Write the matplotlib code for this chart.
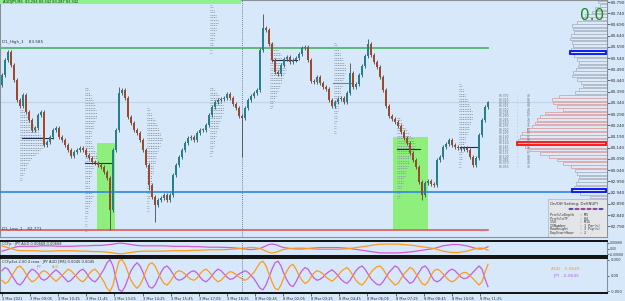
import matplotlib
matplotlib.use("Agg")
import matplotlib.pyplot as plt
from matplotlib.patches import Rectangle, Circle
import numpy as np

# === DATA ===
first_open = 83.420
closes = [
    83.465, 83.532, 83.567, 83.510, 83.443, 83.353, 83.327, 83.376, 83.300, 83.264,
    83.220, 83.229, 83.286, 83.300, 83.153, 83.166, 83.188, 83.220, 83.229, 83.188,
    83.175, 83.153, 83.130, 83.104, 83.121, 83.130, 83.139, 83.130, 83.108, 83.095,
    83.077, 83.072, 83.063, 83.055, 83.032, 83.005, 82.863, 83.130, 83.220, 83.385,
    83.398, 83.362, 83.278, 83.251, 83.220, 83.206, 83.175, 83.130, 83.063, 82.974,
    82.921, 82.885, 82.907, 82.916, 82.930, 82.907, 82.930, 83.019, 83.063, 83.099,
    83.130, 83.162, 83.184, 83.188, 83.175, 83.206, 83.220, 83.220, 83.242, 83.286,
    83.322, 83.344, 83.353, 83.358, 83.362, 83.380, 83.362, 83.336, 83.318, 83.282,
    83.273, 83.318, 83.353, 83.371, 83.385, 83.398, 83.576, 83.675, 83.666, 83.603,
    83.532, 83.478, 83.469, 83.510, 83.536, 83.545, 83.523, 83.532, 83.541, 83.559,
    83.585, 83.590, 83.532, 83.438, 83.434, 83.456, 83.429, 83.411, 83.402, 83.353,
    83.327, 83.344, 83.358, 83.362, 83.344, 83.385, 83.474, 83.411, 83.425, 83.465,
    83.505, 83.550, 83.603, 83.554, 83.523, 83.501, 83.456, 83.398, 83.327, 83.282,
    83.269, 83.255, 83.237, 83.211, 83.184, 83.162, 83.117, 83.086, 83.055, 82.988,
    82.930, 82.983, 82.992, 82.979, 82.974, 83.086, 83.099, 83.144, 83.157, 83.175,
    83.153, 83.144, 83.139, 83.135, 83.139, 83.130, 83.099, 83.063, 83.095, 83.197,
    83.264, 83.322, 83.342,
]
long_lows = {36: 82.775, 51: 82.810, 80: 83.099, 140: 82.905, 49: 82.950}
long_highs = {87: 83.735, 122: 83.625, 39: 83.410, 116: 83.520}

d1_high = 83.585
d1_low = 82.771
blue_level = 82.943
bid_level = 83.342

# green zones: (first bar, last bar, top price)
zone_start = [31.7, 130.3]
zone_end = [37.7, 142.0]
zone_top = [83.162, 83.188]

# POC-style short lines inside the TPO profiles
poc_start = [6.7, 27.7, 131.7, 110.3, 90.0, 152.7]
poc_end = [17.0, 36.7, 139.3, 117.0, 98.3, 158.3]
poc_price = [83.184, 83.072, 83.135, 83.429, 83.532, 83.144]
poc_color = ['#1f3050', '#1f3050', '#1f3050', '#9966cc', '#1f3050', '#1f3050']

# TPO profiles (start bar, top price, row widths in px units)
tpo_start = [6.0, 27.7, 48.3, 69.3, 69.3, 89.3, 110.7, 131.7, 152.3]
tpo_top = [83.309, 83.407, 83.318, 83.777, 83.407, 83.608, 83.608, 83.273, 83.425]
tpo_rows = [
    [3, 5, 6, 8, 10, 12, 14, 15, 17, 18, 20, 22, 24, 25, 24, 22, 20, 18, 15, 12, 10, 8, 7, 6, 5, 4, 3, 2, 2],
    [3, 4, 5, 6, 7, 8, 9, 10, 10, 11, 12, 12, 11, 10, 9, 8, 8, 7, 6, 6, 5, 6, 7, 8, 9, 10, 11, 12, 12,
     11, 10, 9, 8, 7, 6, 6, 5, 5, 4, 4, 5, 6, 7, 8, 7, 6, 5, 4, 3, 3, 3, 2, 2, 2, 2, 2, 2, 2],
    [2, 3, 4, 5, 6, 8, 9, 10, 11, 12, 13, 14, 15, 15, 14, 13, 12, 11, 10, 9, 9, 8, 8, 7, 7, 6, 6, 5,
     5, 5, 4, 4, 4, 3, 3, 3, 3, 2, 2, 2, 2, 2],
    [2, 3, 4, 5, 6, 7, 8, 8, 7, 6, 6, 5, 5, 4, 4, 3, 3, 2, 2, 2],
    [3, 5, 7, 9, 10, 11, 12, 13, 14, 14, 13, 12, 11, 10, 9, 8, 8, 7, 6, 6, 5, 5, 4, 4, 3, 3, 2, 2],
    [3, 4, 6, 8, 10, 11, 12, 13, 14, 15, 16, 16, 15, 14, 13, 12, 11, 10, 9, 8, 7, 6, 5, 4, 3, 3, 2],
    [2, 3, 4, 5, 6, 7, 8, 9, 10, 11, 12, 12, 11, 10, 10, 9, 8, 8, 7, 7, 6, 6, 5, 5, 5, 4, 4, 4, 3,
     3, 3, 3, 2, 2, 2, 2, 2],
    [3, 4, 5, 6, 8, 10, 12, 14, 16, 17, 18, 18, 17, 16, 15, 14, 13, 12, 12, 11, 10, 9, 9, 8, 7, 6,
     6, 5, 4, 4, 3, 3, 2],
    [2, 3, 4, 5, 6, 7, 8, 9, 10, 11, 12, 13, 14, 14, 13, 12, 11, 10, 10, 9, 8, 7, 6, 6, 5, 5, 4, 4,
     3, 3, 3, 2, 2, 2],
]

# right side volume profile
vp_top_price = 83.790
vp_step = 0.015
vp_volume = [9, 7, 12, 15, 22, 24, 30, 35, 34, 33, 36, 37, 35, 34, 36, 37, 33, 30, 28, 29,
             31, 34, 35, 30, 26, 24, 28, 32, 48, 55, 54, 50, 44, 62, 67, 70, 72, 75, 80, 85,
             87, 89, 90, 82, 77, 67, 58, 50, 44, 36, 32, 30, 28, 29, 31, 33, 35, 27, 17, 8]
vp_blue_rows = [15, 56]
vp_red_row = 42

price_ticks = [82.790, 82.840, 82.890, 82.940, 82.990, 83.040, 83.090, 83.140, 83.190,
               83.240, 83.290, 83.340, 83.390, 83.440, 83.490, 83.540, 83.590, 83.640,
               83.690, 83.740, 83.790]

# CCFp oscillators (AUD line; JPY is its mirror)
ccf_aud = [3, 2, 1, 0, -1, -2, -2.5, -2.5, -2.5, -2.5,
           -2.5, -2.5, -2.8, -3, -3, -3, -3, -2.8, -2.5, -2.5,
           -2.5, -2.5, -2.5, -2.5, -2.6, -2.8, -3, -3, -3, -3.2,
           -3.5, -3.5, -3.5, -3.5, -3.8, -4, -4.5, -5, -5.5, -6,
           -6, -5.5, -5, -4.5, -4, -3.5, -3.2, -3, -3, -3,
           -3, -3, -3, -3, -3, -2.8, -2.6, -2.5, -2.5, -2.5,
           -2.5, -2.5, -2.4, -2.2, -2, -2, -2, -1.8, -1.6, -1.5,
           -1.5, -1.5, -1.5, -1.4, -1.3, -1.2, -1, -0.8, -0.5, -0.2,
           0, 0.5, 1, 1.2, 1, 0.5, 0, -1.5, -3, -4.5,
           -5, -4.5, -3.5, -2, -1, -0.5, 0, 0.3, 0.5, 0.5,
           0.5, 0.3, 0, -0.3, -0.5, -0.8, -1, -1, -1, -1,
           -1, -1, -1, -0.8, -0.5, -0.3, 0, 0.5, 1, 1.5,
           2, 2.5, 3, 3.5, 4, 4.5, 5, 5, 5, 5,
           5, 5, 5, 4.8, 4.5, 4.2, 4, 3.5, 3, 2.5,
           2, 1.5, 1, 0.5, 0, -1, -2, -3, -3.5, -4,
           -4.5, -4.5, -4.5, -4, -3.5, -3, -2, -1, 0, 0.5,
           0.5, -0.5, -2]

ext_aud = [-15, -25, -20, -5, 10, 25, 30, 20, 5, -10,
           -20, -15, -5, 10, 15, 10, 0, -10, -18, -10,
           0, 10, 20, 15, 5, -5, -15, -20, -10, 5,
           15, 20, 10, -5, -20, -40, -50, -30, 10, 45,
           50, 35, 10, -15, -30, -40, -30, -10, 15, 35,
           40, 30, 10, -10, -25, -30, -20, -5, 10, 15,
           12, 5, -5, -12, -15, -8, 5, 15, 20, 12,
           0, -12, -20, -15, -5, 5, 12, 10, 3, -5,
           -10, -15, -10, 0, 10, 25, 40, 45, 30, 5,
           -20, -40, -45, -30, -5, 15, 30, 35, 20, 0,
           -15, -25, -20, -5, 8, 15, 12, 5, -5, -12,
           -18, -10, 0, 12, 20, 25, 15, 0, -15, -25,
           -30, -20, -5, 10, 20, 28, 30, 20, 5, -10,
           -20, -30, -25, -10, 5, 15, 25, 20, 5, -10,
           -25, -30, -20, 0, 15, 20, 15, 5, -5, -15,
           -20, -15, -5, 5, 10, 8, 0, -10, -20, -30,
           -20, 10, 35]

time_labels = ["3 Mar 2021", "3 Mar 09:05", "3 Mar 10:25", "3 Mar 11:45", "3 Mar 13:05",
               "3 Mar 14:25", "3 Mar 15:45", "3 Mar 17:05", "3 Mar 18:25", "8 Mar 00:45",
               "8 Mar 02:05", "8 Mar 03:25", "8 Mar 04:45", "8 Mar 06:05", "8 Mar 07:25",
               "8 Mar 08:45", "8 Mar 10:05", "8 Mar 11:25"]

# === STYLE ===
BG = '#d6e8fa'
UP = '#23808c'
DOWN = '#9c4a2a'
WICK = '#4a4a4a'
W, H = 625, 301
PLOT_W = 607
X0, X1 = -2 / 3, 605 / 3          # bar index at left/right pixel edge
Y0, Y1 = 82.742, 83.799           # price at bottom/top of main panel
PX_PER_BAR = 3.0

fig = plt.figure(figsize=(W / 100, H / 100), dpi=100, facecolor=BG)
ax = fig.add_axes([0, 64 / H, PLOT_W / W, 237 / H], facecolor=BG)
ax_u = fig.add_axes([0, 45 / H, PLOT_W / W, 15 / H], facecolor=BG)
ax_l = fig.add_axes([0, 8 / H, PLOT_W / W, 35 / H], facecolor=BG)

n = len(closes)
xs = np.arange(n)
opens = np.array([first_open] + closes[:-1])
cl = np.array(closes)
hi = np.maximum(opens, cl) + 0.008
lo = np.minimum(opens, cl) - 0.008
for k, v in long_lows.items():
    lo[k] = v
for k, v in long_highs.items():
    hi[k] = v

# green zones
for s, e, t in zip(zone_start, zone_end, zone_top):
    ax.add_patch(Rectangle((s, d1_low), e - s, t - d1_low, facecolor='#86f06e',
                           edgecolor='none', alpha=0.9, zorder=1))

# TPO profiles as grey dotted rows
row_h = 0.0112
for s, top, rows in zip(tpo_start, tpo_top, tpo_rows):
    for r, wdt in enumerate(rows):
        yy = top - r * row_h
        ax.plot([s, s + wdt / PX_PER_BAR], [yy, yy], color='#8d99a8', lw=0.7,
                ls=(0, (1, 0.8)), zorder=2, solid_capstyle='butt')

# horizontal levels
ax.axhline(bid_level, color='#c3d3e6', lw=0.8, zorder=1)
ax.plot([X0, n - 1], [d1_high, d1_high], color='#5fb87a', lw=1.4, zorder=3)
ax.plot([X0, n - 1], [d1_low, d1_low], color='#e05a5a', lw=1.2, zorder=3)
ax.plot([X0, 190.0], [blue_level, blue_level], color='#2f86e0', lw=1.2, zorder=3)

for s, e, p, c in zip(poc_start, poc_end, poc_price, poc_color):
    ax.plot([s, e], [p, p], color=c, lw=0.8, zorder=4)

# candles
ax.vlines(xs, lo, hi, color=WICK, lw=0.6, zorder=5)
up = cl >= opens
body_h = np.abs(cl - opens)
body_h = np.maximum(body_h, 0.002)
ax.bar(xs[up], body_h[up], bottom=opens[up], width=0.6, color=UP, zorder=6, linewidth=0)
ax.bar(xs[~up], body_h[~up], bottom=cl[~up], width=0.6, color=DOWN, zorder=6, linewidth=0)

# right volume profile
vp_prices = vp_top_price - vp_step * np.arange(len(vp_volume))
vp_len = np.array(vp_volume) / PX_PER_BAR
edge_cols = []
for k, p in enumerate(vp_prices):
    if 28 <= k <= 49:
        edge_cols.append('#d9a5a8')
    else:
        edge_cols.append('#a8b6c6')
ax.barh(vp_prices, vp_len, left=X1 - vp_len, height=vp_step * 0.8, color='#dde9f6',
        edgecolor=edge_cols, linewidth=0.6, zorder=4)
for k in vp_blue_rows:
    ax.add_patch(Rectangle((X1 - vp_len[k], vp_prices[k] - vp_step * 0.4), vp_len[k] - 0.3,
                           vp_step * 0.8, facecolor='none', edgecolor='#0010ff', lw=1.3, zorder=7))
k = vp_red_row
ax.add_patch(Rectangle((X1 - vp_len[k], vp_prices[k] - vp_step * 0.4), vp_len[k] - 0.3,
                       vp_step * 0.8, facecolor='#f4b8bc', edgecolor='#ff1010', lw=1.3, zorder=7))

# little price table left of the profile
for k in range(28, 50):
    p = vp_prices[k]
    ax.text(165.5, p, f"{p:.3f}", fontsize=2.2, color='#6d7480', va='center', zorder=8)
    ax.text(171.5, p, ":", fontsize=2.2, color='#6d7480', va='center', zorder=8)
    ax.text(175.0, p, f"{vp_volume[k]}", fontsize=2.2, color='#6d7480', va='center', zorder=8)

ax.set_xlim(X0, X1)
ax.set_ylim(Y0, Y1)


def pxy(xp, yp):
    return xp / PLOT_W, 1 - yp / 237


# title bar + texts
ax.add_patch(Rectangle(pxy(0, 4), 241 / PLOT_W, 4 / 237, transform=ax.transAxes,
                       facecolor='#8ef08e', edgecolor='none', zorder=9))
ax.text(*pxy(3, 2), "AUDJPY,M5  83.294 83.342 83.287 83.342", transform=ax.transAxes,
        fontsize=2.6, color='#103010', va='center', zorder=10)
ax.text(*pxy(2, 44), "D1_High_1    83.585", transform=ax.transAxes, fontsize=3,
        color='#303840', va='bottom', zorder=10)
ax.text(*pxy(2, 230), "D1_Low_1    82.771", transform=ax.transAxes, fontsize=3,
        color='#303840', va='bottom', zorder=10)
ax.text(*pxy(592, 15), "0.0", transform=ax.transAxes, fontsize=11, color='#1a8a1a',
        ha='center', va='center', zorder=10)

# info box
ax.add_patch(Rectangle(pxy(548, 237), 59 / PLOT_W, 38 / 237, transform=ax.transAxes,
                       facecolor='#e3e5e8', edgecolor='#b0b4ba', lw=0.5, zorder=9))
ax.text(*pxy(550, 204), "On/Off Setting: Del(NUP)", transform=ax.transAxes, fontsize=2.8,
        color='#303030', va='center', zorder=10)
dot_cols = ['#3a5cff', '#ff3caa', '#ff3caa', '#ff3caa', '#ff3caa', '#3a5cff']
for j, c in enumerate(dot_cols):
    ax.add_patch(Circle(pxy(571 + j * 6, 209), 2.2 / PLOT_W, transform=ax.transAxes,
                        facecolor=c, edgecolor='#1a1a6a', lw=0.3, zorder=10))
info_lines = ["ProfileDepth   : M5", "ProfileTF      : H4", "ISO            : M15",
              "ISNumber       : 1 Par(s)", "RowHeight      : 3 Pip(s)", "DayStartHour   : 2"]
for j, t in enumerate(info_lines):
    ax.text(*pxy(550, 215 + j * 3.6), t, transform=ax.transAxes, fontsize=2.4,
            color='#303030', va='center', family='DejaVu Sans Mono', zorder=10)

ax.yaxis.tick_right()
ax.set_yticks(price_ticks)
ax.set_yticklabels([f"{p:.3f}" for p in price_ticks])
ax.tick_params(axis='y', labelsize=3, length=2, pad=1, colors='#303030', width=0.5)
ax.set_xticks([])
for s in ax.spines.values():
    s.set_color('#8a8f96')
    s.set_linewidth(0.8)

# === oscillator panels ===
aud_u = np.array(ccf_aud) / 1000
ax_u.plot(xs, -aud_u, color='#d45ad0', lw=0.9)
ax_u.plot(xs, aud_u, color='#ff9a1a', lw=0.9)
ax_u.set_xlim(X0, X1)
ax_u.set_ylim(-0.0085, 0.0085)
ax_u.yaxis.tick_right()
ax_u.set_yticks([0.00668, 0.0, -0.00668])
ax_u.set_yticklabels(["0.00668", "0.00", "-0.00668"])
ax_u.tick_params(axis='y', labelsize=2.2, length=1.2, pad=0.6, colors='#303030', width=0.5)
ax_u.set_xticks([])
ax_u.text(0.004, 0.82, "CCFp · JPY AUD 0.00668 0.00668", transform=ax_u.transAxes,
          fontsize=2.6, color='#303030', va='center')

aud_l = np.array(ext_aud) / 1000
ax_l.plot(xs, -aud_l, color='#c05ee0', lw=0.9)
ax_l.plot(xs, aud_l, color='#ff9a1a', lw=0.9)
ax_l.set_xlim(X0, X1)
ax_l.set_ylim(-0.055, 0.055)
ax_l.yaxis.tick_right()
ax_l.set_yticks([0.05, 0.0, -0.05])
ax_l.set_yticklabels(["0.050", "0.00", "-0.050"])
ax_l.tick_params(axis='y', labelsize=2.6, length=1.5, pad=1, colors='#303030', width=0.5)
ax_l.text(0.004, 0.9, "CCFpExt 2.00 4 rena · JPY AUD [M5] 0.0045 0.0045",
          transform=ax_l.transAxes, fontsize=2.6, color='#303030', va='center')
ax_l.text(0.06, 0.72, "JPY", transform=ax_l.transAxes, fontsize=2.4, color='#c05ee0')
ax_l.text(0.085, 0.72, "AUD", transform=ax_l.transAxes, fontsize=2.4, color='#ff9a1a')
ax_l.text(0.955, 0.68, "AUD   0.0645", transform=ax_l.transAxes, fontsize=3.2,
          color='#ff9a1a', ha='right', va='center')
ax_l.text(0.955, 0.48, "JPY  -0.0645", transform=ax_l.transAxes, fontsize=3.2,
          color='#c05ee0', ha='right', va='center')

tick_pos = np.arange(len(time_labels)) * 9.37
ax_l.set_xticks(tick_pos)
ax_l.set_xticklabels(time_labels)
ax_l.tick_params(axis='x', labelsize=2.6, length=2, pad=0.8, colors='#303030', width=0.5)
for lab in ax_l.get_xticklabels():
    lab.set_ha('left')

for a in (ax_u, ax_l):
    for side in ('top', 'bottom'):
        a.spines[side].set_color('black')
        a.spines[side].set_linewidth(1.3)
    for side in ('left', 'right'):
        a.spines[side].set_color('#8a8f96')
        a.spines[side].set_linewidth(0.8)

for a in (ax, ax_u, ax_l):
    a.axvline(80, color='#555b66', lw=0.6, ls=(0, (1, 1.5)), zorder=2)

fig.savefig("out.png", dpi=100, facecolor=BG)
